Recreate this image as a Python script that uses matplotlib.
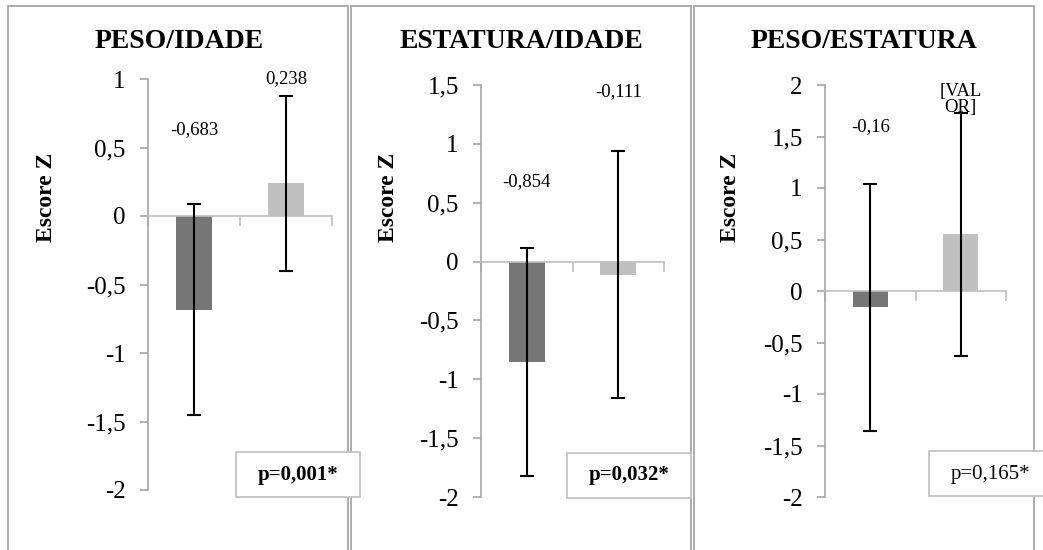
import matplotlib
matplotlib.use('Agg')
import matplotlib.pyplot as plt
from matplotlib.patches import Rectangle

plt.rcParams['font.family'] = ['Liberation Serif', 'DejaVu Serif']

W, H = 1043, 550

titles = ['PESO/IDADE', 'ESTATURA/IDADE', 'PESO/ESTATURA']
grupo1 = [-0.683, -0.854, -0.16]
grupo2 = [0.238, -0.111, 0.55]
erro1 = [0.77, 0.97, 1.2]
erro2 = [0.64, 1.05, 1.18]
rotulos1 = ['-0,683', '-0,854', '-0,16']
rotulos2 = ['0,238', '-0,111', '[VAL\nOR]']
p_textos = ['p=0,001*', 'p=0,032*', 'p=0,165*']
p_negrito = [True, True, False]
y_min = [-2, -2, -2]
y_max = [1, 1.5, 2]

# layout in pixels (left, right, top, bottom of the plot area)
axes_px = [(148, 332, 79, 490), (481, 664, 85, 497), (825, 1006, 85, 497)]
panel_px = [(8, 348), (351, 691), (694, 1034)]
rot_y1 = [0.63, 0.68, 1.6]
rot_y2 = [1.0, 1.44, 1.86]
box_px = [(236, 360, 452, 497), (567, 691, 453, 498), (929, 1050, 451, 496)]
ylabel_px = [46, 389, 731]
title_px = [179, 521, 864]

cor1 = '#767676'
cor2 = '#c0c0c0'
cinza = '#a6a6a6'


def fx(x):
    return x / W


def fy(y):
    return 1 - y / H


fig = plt.figure(figsize=(W / 100, H / 100), dpi=100)

for x0, x1 in panel_px:
    fig.patches.append(Rectangle((fx(x0), fy(560)), fx(x1 - x0), (560 - 6) / H,
                                 transform=fig.transFigure, fill=False,
                                 edgecolor=cinza, lw=1.3))


def fmt(v):
    return ('%g' % v).replace('.', ',')


for i in range(3):
    l, r, t, b = axes_px[i]
    ax = fig.add_axes([fx(l), fy(b), fx(r - l), (b - t) / H])
    ax.set_xlim(0, 2)
    ax.set_ylim(y_min[i], y_max[i])
    ax.patch.set_alpha(0)

    ax.bar([0.5], [grupo1[i]], width=0.39, color=cor1, zorder=2)
    ax.bar([1.5], [grupo2[i]], width=0.39, color=cor2, zorder=2)
    ax.errorbar([0.5, 1.5], [grupo1[i], grupo2[i]], yerr=[erro1[i], erro2[i]],
                fmt='none', ecolor='black', elinewidth=1.5, capsize=5,
                capthick=1.5, zorder=3)

    ax.text(0.5, rot_y1[i], rotulos1[i], ha='center', va='center', fontsize=13.5)
    ax.text(1.5, rot_y2[i], rotulos2[i], ha='center', va='center', fontsize=13.5,
            linespacing=0.9)

    for s in ['top', 'right']:
        ax.spines[s].set_visible(False)
    ax.spines['bottom'].set_position(('data', 0))
    ax.spines['bottom'].set_color('#bfbfbf')
    ax.spines['bottom'].set_linewidth(1.2)
    ax.spines['left'].set_color(cinza)
    ax.spines['left'].set_linewidth(1.2)

    ticks = []
    v = y_min[i]
    while v <= y_max[i] + 1e-9:
        ticks.append(v)
        v += 0.5
    ax.set_yticks(ticks)
    ax.set_yticklabels([fmt(v) for v in ticks], fontsize=18)
    ax.tick_params(axis='y', direction='out', length=6, width=1.2,
                   color=cinza, pad=10)
    ax.set_xticks([0, 1, 2])
    ax.set_xticklabels([])
    ax.tick_params(axis='x', direction='out', length=7, width=1.2,
                   color='#bfbfbf')

    fig.text(fx(title_px[i]), fy(41), titles[i], ha='center', va='center',
             fontsize=20, fontweight='bold')
    fig.text(fx(ylabel_px[i]), fy(197), 'Escore Z', ha='center', va='center',
             rotation=90, fontsize=17, fontweight='bold')

    bx0, bx1, bt, bb = box_px[i]
    fig.patches.append(Rectangle((fx(bx0), fy(bb)), fx(bx1 - bx0), (bb - bt) / H,
                                 transform=fig.transFigure, facecolor='white',
                                 edgecolor='#bfbfbf', lw=1.2, zorder=5))
    fig.text(fx(bx0 + 62), fy(475), p_textos[i], ha='center', va='center',
             fontsize=15, fontweight='bold' if p_negrito[i] else 'normal',
             zorder=6)

fig.savefig('out.png', dpi=100)
